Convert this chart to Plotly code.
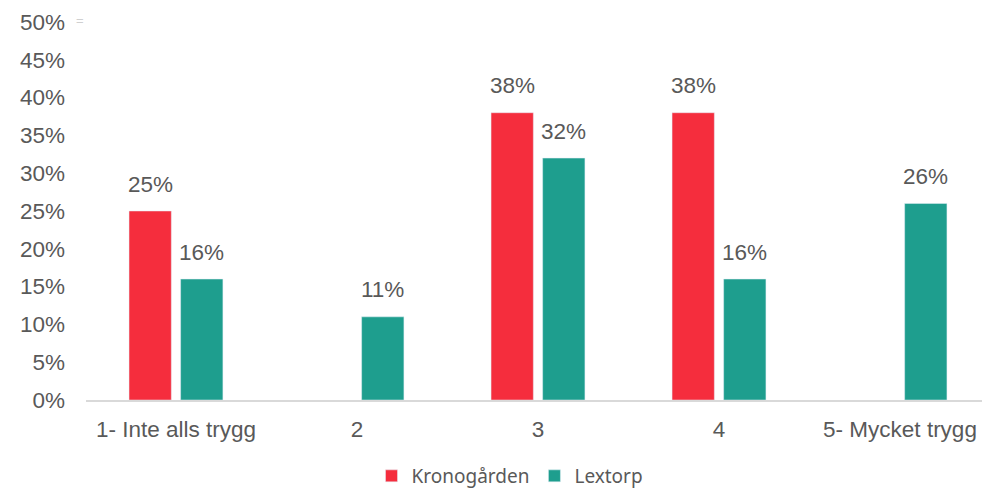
import plotly.graph_objects as go

# Data
categories = ["1- Inte alls trygg", "2", "3", "4", "5- Mycket trygg"]
krono = [25, None, 38, 38, None]
lextorp = [16, 11, 32, 16, 26]
tick_vals = [0, 5, 10, 15, 20, 25, 30, 35, 40, 45, 50]

red = "#F52D3D"
teal = "#1E9E8E"
grey_text = "#595959"
lbl_font = dict(size=22.5, color=grey_text, family="Liberation Sans")

fig = go.Figure()
fig.add_trace(go.Bar(x=categories, y=krono, name="Kronogården",
                     marker=dict(color=red), offsetgroup="k"))
fig.add_trace(go.Bar(x=categories, y=lextorp, name="Lextorp",
                     marker=dict(color=teal), offsetgroup="l"))

# value labels above bars (x given as category index)
annotations = []
for i, (k, l) in enumerate(zip(krono, lextorp)):
    if k is not None:
        annotations.append(dict(x=i, y=k, text=f"{k}%", xref="x", yref="y",
                                showarrow=False, yshift=27, xshift=-25.5,
                                font=lbl_font))
    if l is not None:
        annotations.append(dict(x=i, y=l, text=f"{l}%", xref="x", yref="y",
                                showarrow=False, yshift=27, xshift=25.5,
                                font=lbl_font))

# small mark near the top left
annotations.append(dict(x=-0.013, y=1.03, xref="paper", yref="paper",
                        text="=", showarrow=False,
                        font=dict(size=13, color="#d0d0d0")))

fig.update_layout(
    width=982, height=495,
    margin=dict(l=86, r=0, t=22, b=95),
    paper_bgcolor="white", plot_bgcolor="white",
    barmode="group", bargap=0.43, bargroupgap=0.18,
    font=dict(family="Liberation Sans", color=grey_text, size=22),
    xaxis=dict(showgrid=False, showline=True, linecolor="#d9d9d9",
               linewidth=1.5, ticks="", ticklabelstandoff=8,
               automargin=False, range=[-0.497, 4.453],
               tickfont=lbl_font),
    yaxis=dict(range=[0, 50], tickvals=tick_vals,
               ticktext=[f"{v}%" for v in tick_vals],
               showgrid=False, zeroline=False, showline=False,
               ticklabelstandoff=20, automargin=False,
               tickfont=lbl_font),
    legend=dict(orientation="h", xref="container", yref="container",
                x=510 / 982, y=0, xanchor="center", yanchor="bottom",
                font=dict(family="Noto Sans", size=19, color=grey_text)),
    annotations=annotations,
)

# drop the default page margin so the figure fills the window exactly
fig.write_html("out.html",
               config={"displayModeBar": False},
               post_script="document.body.style.margin='0';"
                           "document.body.style.overflow='hidden';")
